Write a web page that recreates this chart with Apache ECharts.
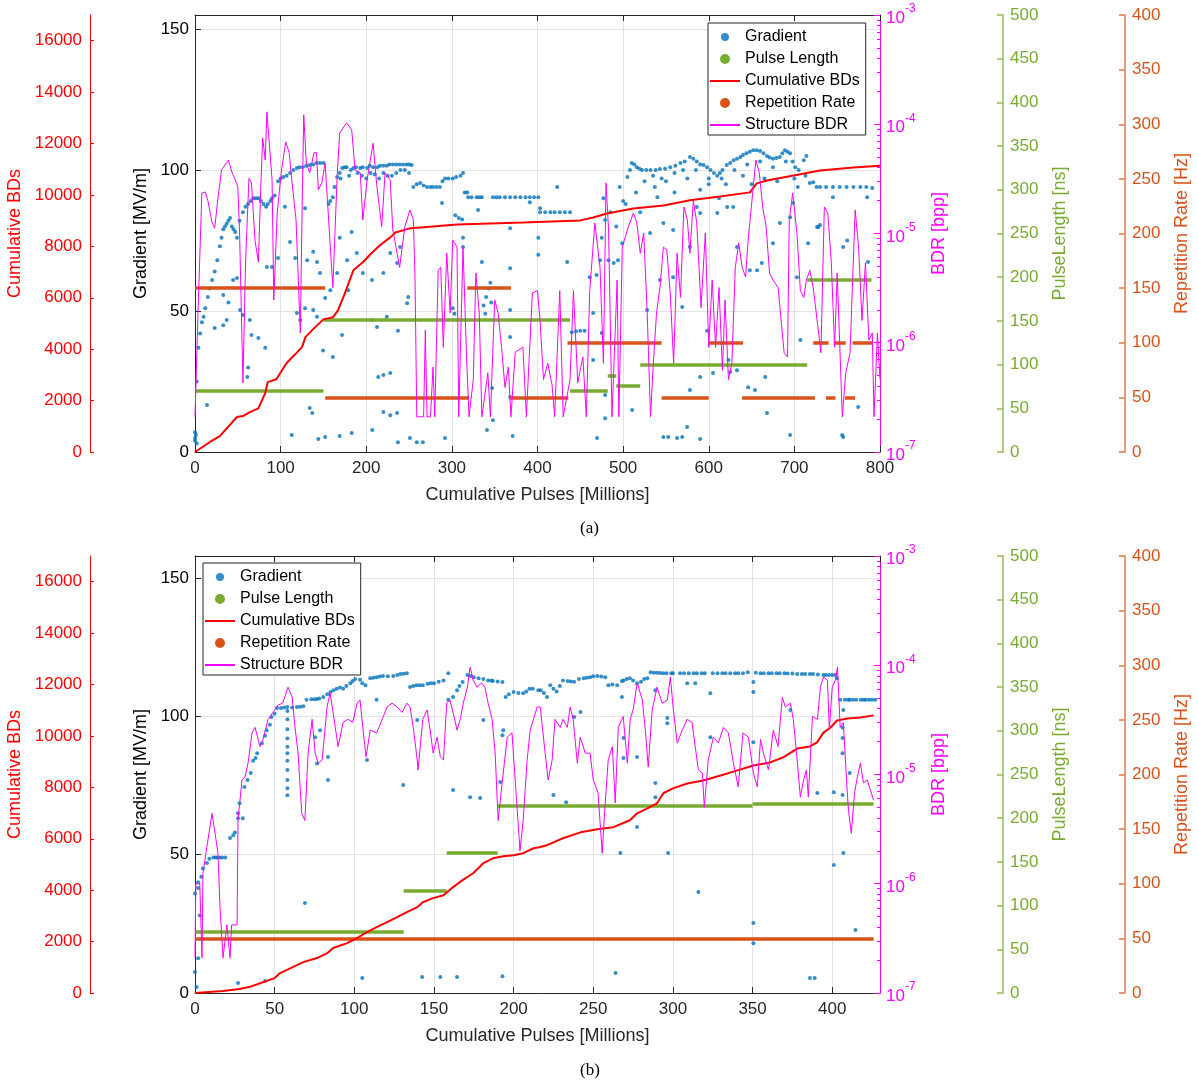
<!DOCTYPE html>
<html>
<head>
<meta charset="utf-8">
<script src="https://cdn.jsdelivr.net/npm/echarts@6/dist/echarts.min.js"></script>
<style>
  html, body { margin: 0; padding: 0; background: #fff; }
  #chart { width: 1198px; height: 1085px; }
</style>
</head>
<body>
<div id="chart"></div>
<script>
// ---- data ----
// (a) top panel
var topGradBand = [[0,5],[2,25],[4,37],[8,46],[12,51],[17,58],[23,64],[29,73],[33,79],[37,81],[41,83],[45,79],[49,76],[56,85],[62,88],[68,90],[74,90],[80,88],[85,88],[93,91],[97,96],[103,97.5],[111,99],[119,100.7],[126,101],[134,101.8],[142,102.5],[150,102.5],[156,88],[161,90.4],[166,97.5],[172,100.7],[177,101],[185,100.7],[193,100.7],[201,100.7],[208,101],[216,101.5],[224,101.5],[231,102],[239,102],[247,102],[253,101.8],[180,98],[190,99],[200,97],[210,98.5],[220,99],[230,98],[240,100],[250,99],[255,94],[263,95.4],[271,94],[278,94],[286,94],[292,97],[301,97],[310,98],[313,99],[304,84],[308,83],[312,82.5],[315,92],[319,90.4],[329,90.4],[335,90.4],[348,90.4],[356,90.4],[368,90.4],[380,90.4],[391,90.4],[401,90.4],[403,85],[415,85],[426,85],[438,85],[440,42.5],[450,43],[461,62],[469,62.8],[473,68],[477,90],[483,68],[489,67],[494,68],[496,94],[500,89],[505,97.5],[510,102.5],[516,101],[522,100],[532,100],[543,100.4],[555,101],[567,102.5],[578,104.6],[586,103],[594,101.8],[602,100],[610,98],[616,100],[621,101.8],[629,103.5],[637,104.6],[644,106],[652,107],[660,106.8],[668,105],[675,104],[683,104.6],[689,107],[695,106],[701,101],[705,100],[711,103.5],[714,105],[525,96],[535,98],[545,97],[560,99],[570,100],[585,100],[600,97],[615,97],[630,100],[645,102],[660,103],[675,101],[690,103],[718,95.4],[722,95.7],[730,94],[745,94],[761,94],[777,94],[791,93.6],
  [6,42],[10,48],[15,55],[20,61],[26,68],[31,76],[35,80],[39,82],[43,80],[47,78],[52,82],[59,87],[65,89],[71,90],[77,89],[83,87],[88,89],[90,90],[100,97],[107,98],[115,100],[122,101],[130,101.5],[138,102],[146,102.5],[158,89],[163,94],[169,99],[175,101],[182,100],[188,101],[196,101],[204,101.5],[213,101],[220,101.5],[227,102],[235,102],[243,102],[250,102],[170,97],[195,98],[205,99],[215,97],[225,98],[235,99],[245,100],[259,95],[267,94.5],[275,94],[282,94],[289,96],[296,97],[305,97.5],[318,92],[323,90.4],[332,90.4],[352,90.4],[362,90.4],[374,90.4],[386,90.4],[396,90.4],[409,85],[420,85],[432,85],[445,42.8],[455,43],[508,100],[513,102],[519,100.5],[527,100],[538,100],[549,100.5],[561,101.5],[572,103],[582,104],[590,102],[598,101],[606,99],[613,99],[625,102.5],[633,104],[640,105.3],[648,106.5],[656,107],[664,106],[671,104.5],[679,104.3],[686,106],[692,106.5],[698,103],[726,94],[737,94],[753,94],[769,94],[784,94]];
var topGradOut = [[33,55.7],[39,53],[23,44],[33,45],[64,46.8],[66,41.5],[62,30],[61,26.6],[74,40.4],[82,37],[49,61.7],[44.5,61],[52.6,50.4],[56,48.6],[37,46.8],[14,16.7],[113,6],[134,15.6],[137,13.8],[119,49.3],[123,46.8],[128.5,51],[138,50.4],[142.5,48],[105,87],[117,68.8],[131,68],[138,71],[142.5,67.4],[128.5,86.5],[111,74.5],[97,68.8],[90,65.6],[84,65.6],[146,63.5],[149.5,36],[161,33.7],[152,54.6],[158,57.4],[166,63.5],[169,76],[171.7,41.5],[177.6,68],[179,57.4],[183,78],[189,70.6],[196,63.5],[206.8,61],[206.8,46.8],[212.6,44.3],[224,48],[220,63.5],[228,70.6],[236,67],[239.5,72.7],[247.7,52.8],[249,55],[237,43],[220,27.3],[228,28],[214,26.6],[236,13.8],[251,5],[259,3.5],[266,3.5],[207,7.8],[183,6.7],[169,5.7],[152,5.3],[144,4.6],[220,14.2],[228,13],[237,3.5],[292,5],[341,7.8],[371,5.7],[348,11.3],[368,19.5],[368,40.8],[368,50.4],[368,65.2],[403,86.5],[401,76],[401,70],[423,94],[434.6,67.4],[368,79.4],[391,88.6],[335,67.4],[313,76],[313,72.7],[288.5,88.3],[330.6,85.8],[347,22.7],[337,52],[340,55],[343,58],[345,60],[339,49],[346,53],[301,51],[303,49],[469.6,5],[479,12],[479,20.2],[465,32.6],[465,49.3],[475,42.2],[475,76],[479,82.3],[499,74],[510.5,14.9],[528,50.4],[531.5,77.7],[540,90.4],[547,5.3],[552.6,5.3],[563,5],[569,5.3],[574.7,8.9],[590,4.6],[578,22],[598,43],[569,51.4],[558.4,62],[547,81.2],[543,61],[558.4,78.7],[586,86.9],[590,84.8],[578,72.7],[610,84.8],[621.5,86.9],[628.5,86.9],[633,72.7],[648,64.5],[656.5,64.5],[646,23],[654,22],[668,13.8],[666,26.6],[695,6],[675,74],[683,81.2],[695,83.3],[698.6,88.3],[704,94],[716,74],[726.6,79.8],[728,79.8],[730,80.5],[761.7,75],[774.5,16],[755.8,6],[757,5.3],[757,72.7],[785,90.4],[786,67.4],[745,90.4],[662,67],[707,39.7],[703,62],[633,29],[590,26.6],[605,28],[623,32.6],[625,28.4],[0,4],[1,6],[0,7],[2,3],[485,85],[492,80],[503,88],[515,92],[520,85],[537,94],[550,96],[560,92],[575,97],[590,93],[600,95],[612,90],[620,95],[640,98],[650,95],[665,97],[680,96],[700,97],[713,98]];
var topBDs = [[0,0],[17.5,390],[29,620],[49,1360],[56,1400],[64,1550],[74,1700],[82,2290],[85,2720],[95,2830],[107,3460],[117,3800],[125,4080],[129,4470],[138,4780],[150,5160],[161,5240],[167,5510],[175,6170],[185,7070],[196,7380],[206,7730],[216,8040],[228,8350],[234,8540],[251,8700],[267,8740],[306,8850],[383,8930],[450,9010],[465,9120],[481,9280],[512,9470],[547,9590],[578,9790],[613,9940],[648,10100],[656,10450],[668,10560],[699,10760],[730,10950],[769,11070],[800,11140]];
var topBDR = [[0,2.1e-7],[3.5,1.87e-6],[8,2.35e-5],[12,2.4e-5],[15,2.0e-5],[20,1.25e-5],[23,1.12e-5],[27,2.16e-5],[31,3.81e-5],[39,4.71e-5],[43,3.66e-5],[47,3.09e-5],[50,2.67e-5],[52,1.08e-5],[56,4.3e-7],[59,5.4e-6],[63,3.2e-5],[66,2.9e-5],[70,8.7e-6],[74,5.5e-6],[77,2.9e-5],[79,7.5e-5],[82,4.7e-5],[84,1.3e-4],[86,1.35e-4],[90,3.1e-5],[92,2.46e-6],[96,1.54e-5],[101,3.8e-5],[106,6.9e-5],[110,5.5e-5],[113,3.1e-5],[118,1.33e-5],[123,1.23e-6],[125,1.54e-5],[127,1.22e-4],[130,4.4e-5],[134,3.6e-5],[139,5.5e-5],[142,5.5e-5],[144,2.5e-5],[148,2.9e-5],[152,4.4e-5],[158,7.5e-6],[161,3.2e-6],[166,3.3e-5],[169,8.3e-5],[177,1.03e-4],[183,8.9e-5],[187,3.8e-5],[193,3.6e-5],[196,1.33e-5],[201,3.1e-5],[208,6.7e-5],[212,2.9e-5],[218,1.15e-5],[222,3.6e-5],[228,3.1e-5],[231,1.08e-5],[236,6.6e-6],[239,4.9e-6],[245,1.15e-5],[251,1.64e-5],[255,1.33e-5],[257,3.75e-6],[259,2.1e-7],[267,2.1e-7],[269,1.31e-6],[271,2.1e-7],[275,2.1e-7],[278,6.0e-7],[280,2.1e-7],[284,4.6e-6],[287,4.9e-6],[290,9.1e-7],[294,6.6e-6],[298,1.87e-6],[301,8.7e-6],[306,7.5e-6],[308,2.1e-7],[313,7.5e-6],[317,8.1e-7],[320,2.1e-7],[325,4.6e-7],[328,4.35e-6],[332,1.87e-6],[335,2.1e-7],[342,5.3e-7],[345,2.1e-7],[350,2.46e-6],[354,1.87e-6],[358,9.1e-7],[362,3.9e-7],[366,6.0e-7],[369,2.1e-7],[374,8.2e-7],[383,9.1e-7],[387,2.1e-7],[394,2.85e-6],[400,3.0e-6],[403,1.6e-6],[407,4.6e-7],[412,6.5e-7],[417,4.1e-7],[420,2.1e-7],[426,3.0e-6],[430,2.1e-7],[438,4.6e-7],[442,3.0e-6],[447,4.3e-7],[453,7.4e-7],[457,2.1e-7],[461,3.0e-6],[467,1.25e-5],[473,4.9e-6],[477,6.5e-7],[480,2.9e-5],[483,1.08e-5],[487,2.1e-7],[493,3.75e-6],[495,2.1e-7],[499,7.5e-6],[506,1.15e-5],[512,1.54e-5],[516,1.25e-5],[520,6.6e-6],[524,1.01e-5],[528,2.0e-6],[532,2.1e-7],[535,6.0e-7],[539,1.87e-6],[543,3.2e-6],[547,7.5e-6],[551,7.1e-6],[555,2.85e-6],[559,6.5e-7],[563,6.6e-6],[567,2.6e-6],[571,1.75e-5],[575,1.33e-5],[578,6.6e-6],[582,2.0e-5],[586,1.25e-5],[591,2.1e-6],[596,1.01e-5],[600,9.1e-7],[604,3.75e-6],[608,9.1e-7],[612,3.2e-6],[616,5.6e-7],[619,2.46e-6],[623,4.6e-7],[627,6.5e-7],[631,4.9e-6],[635,8.2e-6],[639,4.9e-6],[643,4.0e-6],[646,8.7e-6],[652,2.67e-5],[655,4.7e-5],[659,3.6e-5],[663,1.75e-5],[667,1.15e-5],[671,4.35e-6],[675,3.75e-6],[681,3.2e-6],[688,8.1e-7],[692,7.4e-7],[694,1.33e-5],[698,2.35e-5],[703,1.01e-5],[707,3.0e-6],[711,2.6e-6],[714,3.75e-6],[718,4.6e-6],[722,3.2e-6],[727,1.5e-6],[731,8.1e-7],[735,1.75e-5],[739,1.54e-5],[743,5.7e-6],[747,9.1e-7],[750,4.35e-6],[756,2.1e-7],[760,5.3e-7],[765,8.1e-7],[771,1.64e-5],[775,7.5e-6],[779,1.6e-6],[783,5.4e-6],[787,1.06e-6],[791,1.23e-6],[793,2.1e-7],[797,1.23e-6],[800,4.6e-7]];
// segments: [start, end, value]
var topPulse = [[0,150,70],[150,438,151],[438,482,70],[482,492,87],[492,520,76],[520,715,100],[715,790,197]];
var topRep = [[0,152,150],[152,320,50],[318,369,150],[367,436,50],[435,545,100],[545,600,50],[600,640,100],[639,724,50],[722,740,100],[737,748,50],[746,760,100],[759,771,50],[768,791,100]];

// (b) bottom panel
var botGradBand = [[0,36],[2,38],[5,45],[7.5,47],[11.5,49],[15.5,49],[19,49],[22,56],[25,58],[27,65],[28,68.6],[31,74.5],[35,79.5],[36.5,84],[39,86.7],[42,90.3],[45,95],[48,99.8],[51.5,103],[58,103.4],[64,103.4],[68,103.7],[70,106],[76.6,106.3],[80.5,107],[85,108.8],[89,110],[93,110],[97.5,112],[100.5,113.5],[103.6,113.3],[107,111.3],[110,113.8],[114,114.2],[118,114.6],[124.5,114.6],[129,115.3],[133,115.6],[135,110.6],[139,111.3],[143,111.3],[150,112],[156,113],[159,115.6],[162,107],[164.5,109.5],[168,112.4],[171,115],[175,114.2],[181,113.5],[187,112.8],[193,112.4],[195,107],[200,108.8],[206,108.4],[210,110],[215.5,109.5],[217,109.5],[221,107],[223,111.3],[227,109],[231,113],[238,112.5],[244,113.8],[252.5,114.6],[257.5,114.2],[259.5,111.3],[265,111.3],[269,113],[273,113.8],[277.5,112],[284,113.8],[286,116],[294,115.6],[304.5,115.6],[315,115.6],[325,115.6],[336,115.6],[347,116],[357,115.6],[367,115.6],[378,115.3],[388,115.3],[394.5,115],[400,115],[403,113.8],[405,106],[411,106],[419.6,106],[427,106],[54,103],[61,103.2],[73,106.2],[83,108],[91,110.5],[95,111],[121,114.5],[127,115],[146,111.8],[153,112.5],[178,113.8],[184,113],[190,112.6],[203,108.5],[212,110],[234,112.8],[241,113.5],[248,114.2],[255,114.4],[262,111.5],[280,112.5],[290,115.8],[299,115.6],[310,115.6],[320,115.6],[331,115.6],[341,115.6],[352,115.8],[362,115.6],[372,115.5],[383,115.3],[398,115],[408,106],[415,106],[423,106],[2,40],[4,42],[14,49],[24,57],[33,77],[38,85],[44,93],[47,97],[50,101],
  [300,115.6],[307,115.6],[313,115.6],[318,115.6],[328,115.6],[333,115.6],[339,115.6],[344,115.6],[355,115.6],[360,115.6],[365,115.6],[370,115.6],[375,115.5],[381,115.3],[386,115.3],[391,115.2],[396,115],[402,115],[410,106],[413,106],[418,106],[421,106],[425,106],[56,103.2],[66,103.5],[75,106.2],[78,106.5],[87,109.5],[99,112.8],[105,112],[112,114],[116,114.4],[131,115.4],[137,111],[141,111.3],[148,112],[166,111],[173,114.6],[186,113],[197,108],[208,109],[219,108.5],[225,110],[229,111],[236,112.6],[246,114],[250,114.5],[268,112.8],[271,113.5],[275,113],[282,113.5],[288,115.8],[292,115.7],[296,115.6],[9,48.5],[13,49],[17,49]];
var botGradOut = [[0,7.6],[1,2.2],[2,12.6],[3,28],[69,32.5],[27,3.6],[44,4.3],[105,5.4],[142.6,5.8],[154,5.8],[164.5,5.8],[193,6.1],[172.7,70.8],[179,70.5],[130.7,75.2],[162,73.4],[191.6,76.3],[181,98.7],[193.5,95],[27,63.2],[30,63.2],[58,102],[58,99],[58,95.4],[58,92],[58,89],[58,86.7],[58,84],[58,80.6],[58,77],[58,74],[58,71.5],[75.4,92.5],[78.5,95],[76.6,83],[83.5,85.3],[83.5,77],[108,84.2],[114,106],[139.5,98.7],[193,93.2],[159,106],[225,71.6],[233,69],[242,101.6],[238,99.8],[268,107],[269,92.2],[269,85],[277.5,85.3],[277.5,60],[267,50.6],[264,7.2],[289,75.9],[289,70.8],[297,50.6],[316,36.5],[323.5,108.4],[323.5,92.5],[350.5,112.4],[350.5,108.8],[350.5,90.7],[350.5,25.3],[350.5,18],[386,5.4],[389,5.4],[390.7,72.3],[401,72.6],[406.5,71.6],[401,46.3],[407,50.6],[414.6,22.8],[406.5,86.7],[406.5,92.2],[407,102.3],[411,79.5],[406.5,96],[373.7,102.3],[289,109.5],[296.5,99.4],[296.5,97.5],[309,112],[314,112]];
var botBDs = [[0,0],[17.6,80],[28,155],[34.5,240],[43,430],[50,580],[53.4,775],[60,970],[68,1200],[76.6,1360],[83,1550],[86.7,1750],[95.5,1940],[101.7,2140],[108,2370],[114,2560],[120.6,2760],[126.9,2950],[133,3145],[139.5,3340],[143,3530],[149.5,3690],[156,3800],[162,4120],[168,4390],[174.6,4660],[181,5050],[187,5240],[193.5,5320],[200,5360],[206,5440],[212.5,5630],[216,5670],[221,5750],[231,6020],[242,6250],[252.5,6370],[262.6,6450],[273,6720],[277.5,6990],[284,7180],[290,7380],[294,7770],[300,7960],[309,8150],[319,8270],[330,8460],[340.5,8660],[350.5,8850],[361,8970],[369,9160],[378,9510],[386,9590],[390.5,9750],[394.5,10130],[399,10330],[403,10600],[409.5,10680],[417.7,10720],[426,10800]];
var botBDR = [[0,2.1e-7],[0.5,1.0e-6],[3,1.0e-6],[4.4,2.1e-7],[5,1.25e-6],[7.5,2.2e-6],[9.4,3.3e-6],[10.7,4.4e-6],[12.6,2.9e-6],[14.4,1.9e-6],[15.7,6.1e-7],[17.6,2.1e-7],[20,4.2e-7],[22,2.1e-7],[23,4.2e-7],[26.4,4.2e-7],[27,3.8e-6],[29.5,8.9e-6],[31.4,9.5e-6],[33.3,1.27e-5],[35.8,2.4e-5],[37.7,2.7e-5],[40.8,1.8e-5],[42.7,2.1e-5],[45.9,3.2e-5],[49,3.7e-5],[52,4.3e-5],[55,4.5e-5],[58.4,6.3e-5],[61,5.1e-5],[62.8,2.7e-5],[64.7,1.57e-5],[67,4.4e-6],[69,3.8e-6],[71,1.57e-5],[73.5,3.2e-5],[75.4,1.57e-5],[77.3,1.27e-5],[79.8,1.36e-5],[82.9,4.15e-5],[84.8,5.6e-5],[86.7,3.7e-5],[89.8,1.8e-5],[93,3.0e-5],[96,3.2e-5],[99,3.0e-5],[101.8,4.5e-5],[103.6,4.8e-5],[105.5,2.55e-5],[107.4,1.45e-5],[110,2.55e-5],[114,2.4e-5],[117.5,3.2e-5],[120.6,4.15e-5],[123.7,4.5e-5],[126.9,4.15e-5],[130,3.7e-5],[133,4.5e-5],[135,4.15e-5],[137,2.7e-5],[139.5,1.36e-5],[140,1.1e-5],[143,3.2e-5],[145.7,3.9e-5],[147.6,2.55e-5],[149.5,1.57e-5],[152,2.2e-5],[154,1.45e-5],[156,1.36e-5],[158,4.5e-5],[160,4.8e-5],[162,3.7e-5],[164.5,2.55e-5],[166.5,3.2e-5],[168.4,4.5e-5],[171,6.3e-5],[172.7,9.6e-5],[174.6,7.3e-5],[177,6.3e-5],[180,6.9e-5],[182,6.3e-5],[184,4.5e-5],[186.5,3.2e-5],[188.4,1.57e-5],[190.3,3.8e-6],[193,8.9e-6],[196,2.2e-5],[199,2.4e-5],[201,8.9e-6],[204,2.0e-6],[206,3.8e-6],[208.5,1.36e-5],[210.4,2.55e-5],[214.8,4.15e-5],[216.7,4.15e-5],[219.8,1.57e-5],[221.7,8.9e-6],[224.2,1.36e-5],[226,3.2e-5],[229.3,2.7e-5],[231,3.2e-5],[233.7,2.7e-5],[235.5,4.15e-5],[237.4,3.2e-5],[240,1.27e-5],[241.8,2.2e-5],[245,1.57e-5],[248,1.57e-5],[250,8.9e-6],[253,6.8e-6],[255.6,1.9e-6],[257.5,5.5e-6],[259.4,1.36e-5],[262,1.8e-5],[263.8,5.5e-6],[265.7,2.7e-5],[268.8,3.4e-5],[271.4,1.27e-5],[273.2,3.2e-5],[275,3.9e-5],[277.6,6.9e-5],[280.8,4.8e-5],[282.7,2.55e-5],[284.5,1.17e-5],[287,3.9e-5],[290,6.3e-5],[293.3,4.5e-5],[296.5,4.8e-5],[298.4,7.8e-5],[300.3,3.9e-5],[302.7,1.94e-5],[305.9,2.55e-5],[309,3.2e-5],[312,3.0e-5],[314,1.8e-5],[316,1.1e-5],[318.5,1.03e-5],[319.7,5.0e-6],[322.2,1.36e-5],[325.4,2.2e-5],[328.5,1.94e-5],[331.7,2.7e-5],[334.8,2.4e-5],[338,1.27e-5],[341,7.7e-6],[344,2.4e-5],[347.4,2.2e-5],[350.5,1.03e-5],[353,7.7e-6],[355,2.1e-5],[356.8,1.57e-5],[360,1.1e-5],[363,2.55e-5],[366,1.8e-5],[368.7,5.1e-5],[370.6,4.15e-5],[373.7,4.5e-5],[375.6,3.2e-5],[378,1.36e-5],[380,6.2e-6],[382,8.9e-6],[383.8,1.1e-5],[385,6.2e-6],[387.6,3.4e-5],[390.7,3.2e-5],[392.6,6.3e-5],[394.5,7.8e-5],[397,7.3e-5],[398.2,2.55e-5],[400,6.3e-5],[402,7.3e-5],[403.3,9.6e-5],[405,2.7e-5],[407,3.0e-5],[409,8.9e-6],[410.2,4.7e-6],[412,2.9e-6],[414,6.8e-6],[415.8,9.5e-6],[417.7,1.27e-5],[419.6,8.4e-6],[422,8.9e-6],[424,7.2e-6],[426,5.8e-6]];
var botPulse = [[0,131,70],[131,158,117],[158,190,160],[190,350,214],[350,426,217]];
var botRep = [[0,426,50]];

var BLUE = '#0072bd', GREEN = '#77ac30', ORANGE = '#d95319', RED = '#ff0000', MAG = '#ff00ff', INK = '#262626';
var FONT = 'Liberation Sans, Arial, sans-serif';

function segs(list) {
  return list.map(function (s) { return { coords: [[s[0], s[2]], [s[1], s[2]]] }; });
}
function plain(v) { return String(v); }

var myChart = echarts.init(document.getElementById('chart'), null, { renderer: 'canvas' });

var grids = [
  { left: 195, right: 318, top: 15, height: 437, containLabel: false, outerBoundsMode: 'none' },
  { left: 195, right: 318, top: 556, height: 437, containLabel: false, outerBoundsMode: 'none' }
];

function xAxes(gi, max, interval) {
  return [
    {
      gridIndex: gi, type: 'value', min: 0, max: max, interval: interval,
      name: 'Cumulative Pulses [Millions]', nameLocation: 'middle', nameGap: 34,
      nameTextStyle: { fontFamily: FONT, fontSize: 18, color: INK },
      axisLine: { onZero: false, lineStyle: { color: INK } },
      axisTick: { inside: true, length: 6, lineStyle: { color: INK } },
      axisLabel: { fontFamily: FONT, fontSize: 17, color: INK, margin: 8, showMaxLabel: max % interval === 0, formatter: plain },
      splitLine: { show: true, lineStyle: { color: '#e3e3e3' } }
    },
    {
      gridIndex: gi, type: 'value', position: 'top', min: 0, max: max, interval: interval,
      axisLine: { onZero: false, lineStyle: { color: INK } },
      axisTick: { inside: true, length: 6, lineStyle: { color: INK } },
      axisLabel: { show: false }, splitLine: { show: false }
    }
  ];
}

function logLabel(v) {
  var e = Math.round(Math.log10(v));
  return '{b|10}{s|' + e + '}';
}

function yAxes(gi, gmax) {
  return [
    { // gradient
      gridIndex: gi, type: 'value', position: 'left', min: 0, max: gmax, interval: 50,
      name: 'Gradient [MV/m]', nameLocation: 'middle', nameGap: 42, nameRotate: 90,
      nameTextStyle: { fontFamily: FONT, fontSize: 18, color: '#000' },
      axisLine: { show: true, onZero: false, lineStyle: { color: INK } },
      axisTick: { inside: true, length: 6, lineStyle: { color: INK } },
      axisLabel: { fontFamily: FONT, fontSize: 17, color: '#000', margin: 6, showMaxLabel: false, formatter: plain },
      splitLine: { show: true, lineStyle: { color: '#e3e3e3' } }
    },
    { // cumulative BDs
      gridIndex: gi, type: 'value', position: 'left', offset: 105, min: 0, max: 17000, interval: 2000,
      name: 'Cumulative BDs', nameLocation: 'middle', nameGap: 64, nameRotate: 90,
      nameTextStyle: { fontFamily: FONT, fontSize: 18, color: RED },
      axisLine: { show: true, onZero: false, lineStyle: { color: RED } },
      axisTick: { inside: true, length: 4, lineStyle: { color: RED } },
      axisLabel: { fontFamily: FONT, fontSize: 17, color: RED, margin: 8, showMaxLabel: false, formatter: plain },
      splitLine: { show: false }
    },
    { // BDR
      gridIndex: gi, type: 'log', logBase: 10, position: 'right', min: 1e-7, max: 1e-3,
      name: 'BDR [bpp]', nameLocation: 'middle', nameGap: 50, nameRotate: 90,
      nameTextStyle: { fontFamily: FONT, fontSize: 18, color: MAG },
      axisLine: { show: true, onZero: false, lineStyle: { color: MAG } },
      axisTick: { inside: true, length: 6, lineStyle: { color: MAG } },
      minorTick: { show: true, splitNumber: 9, length: 3, lineStyle: { color: MAG } },
      axisLabel: {
        margin: 6, formatter: logLabel,
        rich: {
          b: { fontFamily: FONT, fontSize: 17, color: MAG, lineHeight: 24, verticalAlign: 'bottom' },
          s: { fontFamily: FONT, fontSize: 12, color: MAG, lineHeight: 12, verticalAlign: 'top' }
        }
      },
      splitLine: { show: false }
    },
    { // pulse length
      gridIndex: gi, type: 'value', position: 'right', offset: 123, min: 0, max: 500, interval: 50,
      name: 'PulseLength [ns]', nameLocation: 'middle', nameGap: 48, nameRotate: 90,
      nameTextStyle: { fontFamily: FONT, fontSize: 18, color: GREEN },
      axisLine: { show: true, onZero: false, lineStyle: { color: '#8fbc5c', width: 1.5 } },
      axisTick: { inside: true, length: 6, lineStyle: { color: '#8fbc5c', width: 1.5 } },
      axisLabel: { fontFamily: FONT, fontSize: 17, color: GREEN, margin: 7, formatter: plain },
      splitLine: { show: false }
    },
    { // repetition rate
      gridIndex: gi, type: 'value', position: 'right', offset: 245, min: 0, max: 400, interval: 50,
      name: 'Repetition Rate [Hz]', nameLocation: 'middle', nameGap: 48, nameRotate: 90,
      nameTextStyle: { fontFamily: FONT, fontSize: 18, color: ORANGE },
      axisLine: { show: true, onZero: false, lineStyle: { color: '#e27a4c', width: 1.5 } },
      axisTick: { inside: true, length: 6, lineStyle: { color: '#e27a4c', width: 1.5 } },
      axisLabel: { fontFamily: FONT, fontSize: 17, color: ORANGE, margin: 7, formatter: plain },
      splitLine: { show: false }
    }
  ];
}

function panelSeries(xi, yb, grad, bds, pulse, rep, bdr) {
  return [
    { name: 'Gradient', type: 'scatter', xAxisIndex: xi, yAxisIndex: yb, data: grad,
      symbolSize: 4, itemStyle: { color: BLUE }, z: 2, silent: true },
    { name: 'Pulse Length', type: 'lines', coordinateSystem: 'cartesian2d', xAxisIndex: xi, yAxisIndex: yb + 3,
      data: segs(pulse), lineStyle: { color: GREEN, width: 3.5, opacity: 1 }, z: 3, silent: true },
    { name: 'Cumulative BDs', type: 'line', xAxisIndex: xi, yAxisIndex: yb + 1, data: bds,
      showSymbol: false, lineStyle: { color: RED, width: 2 }, itemStyle: { color: RED }, z: 4, silent: true },
    { name: 'Repetition Rate', type: 'lines', coordinateSystem: 'cartesian2d', xAxisIndex: xi, yAxisIndex: yb + 4,
      data: segs(rep), lineStyle: { color: ORANGE, width: 3.5, opacity: 1 }, z: 3, silent: true },
    { name: 'Structure BDR', type: 'line', xAxisIndex: xi, yAxisIndex: yb + 2, data: bdr,
      showSymbol: false, lineStyle: { color: MAG, width: 1 }, itemStyle: { color: MAG }, z: 5, silent: true }
  ];
}

var lineIcon = 'path://M0,4h30v2h-30z';
function legendAt(pos) {
  return Object.assign({
    orient: 'vertical', itemWidth: 30, itemHeight: 8, itemGap: 4,
    padding: [5, 6, 1, 2], borderColor: INK, borderWidth: 1, backgroundColor: '#fff',
    textStyle: { fontFamily: FONT, fontSize: 16, color: '#000', lineHeight: 18 },
    data: [
      { name: 'Gradient', icon: 'circle', itemStyle: { color: BLUE } },
      { name: 'Pulse Length', icon: 'circle', itemStyle: { color: GREEN } },
      { name: 'Cumulative BDs', icon: lineIcon, itemStyle: { color: RED } },
      { name: 'Repetition Rate', icon: 'circle', itemStyle: { color: ORANGE } },
      { name: 'Structure BDR', icon: lineIcon, itemStyle: { color: MAG } }
    ]
  }, pos);
}

myChart.setOption({
  animation: false,
  backgroundColor: '#fff',
  grid: grids,
  xAxis: xAxes(0, 800, 100).concat(xAxes(1, 430, 50)),
  yAxis: yAxes(0, 155).concat(yAxes(1, 158)),
  legend: [legendAt({ left: 708, top: 23 }), legendAt({ left: 203, top: 563 })],
  series: panelSeries(0, 0, topGradBand.concat(topGradOut), topBDs, topPulse, topRep, topBDR)
    .concat(panelSeries(2, 5, botGradBand.concat(botGradOut), botBDs, botPulse, botRep, botBDR)),
  graphic: [
    { type: 'text', left: 580, top: 520, style: { text: '(a)', font: '17px "Liberation Serif", serif', fill: '#000' } },
    { type: 'text', left: 580, top: 1062, style: { text: '(b)', font: '17px "Liberation Serif", serif', fill: '#000' } }
  ]
});
</script>
</body>
</html>
